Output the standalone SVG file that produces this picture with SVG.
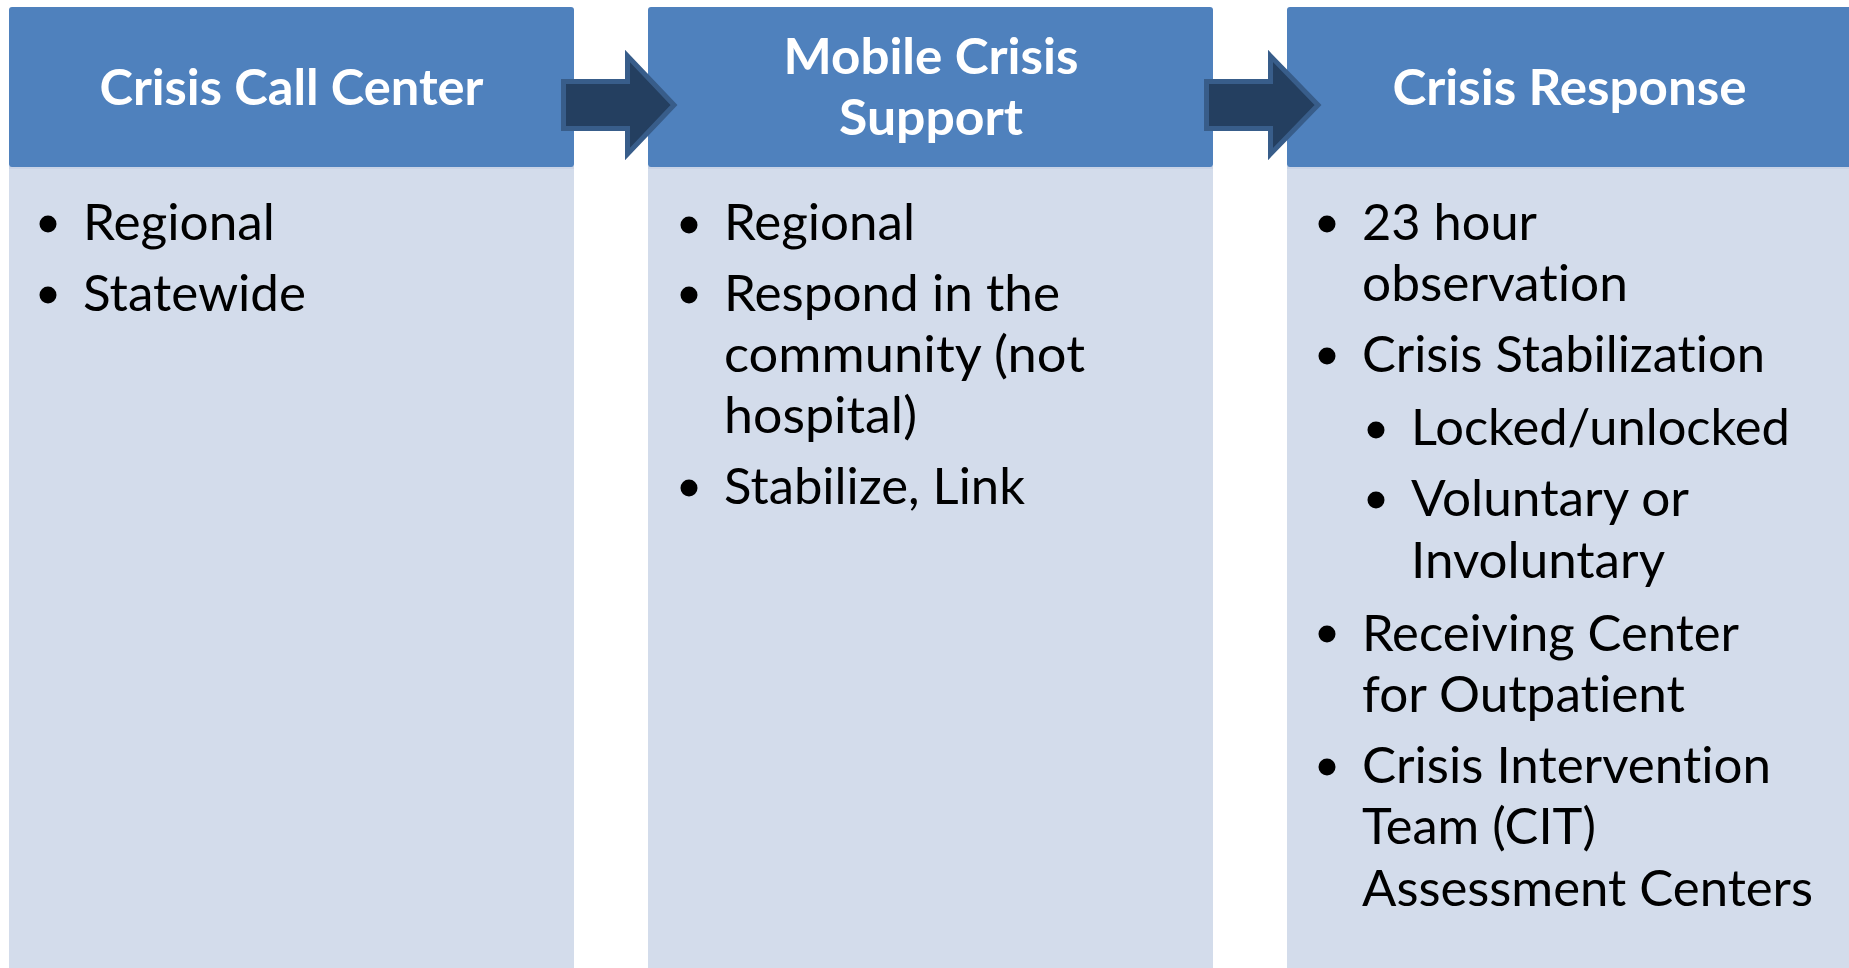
<svg xmlns="http://www.w3.org/2000/svg" width="1849" height="968" viewBox="0 0 1849 968">
<style>
.hdr{fill:#4F81BD}
.body{fill:#D3DCEB}
.edge{fill:#C9D3E6}
.ht{font-family:Lato,"Liberation Sans",sans-serif;font-weight:bold;font-size:50px;fill:#FFFFFF;text-anchor:middle;font-variant-ligatures:none}
.bt{font-family:Lato,"Liberation Sans",sans-serif;font-size:50px;fill:#000000;font-variant-ligatures:none}
.bul{fill:#000000}
.arrow{fill:#243F60;stroke:#385D8A;stroke-width:5;stroke-linejoin:miter}
</style>
<rect width="1849" height="968" fill="#FFFFFF"/>
<g id="node-call-center">
<rect class="body" x="9" y="166" width="565" height="810"/>
<rect class="edge" x="9" y="166" width="565" height="3"/>
<rect class="hdr" x="9" y="7" width="565" height="160" rx="3"/>
<text class="ht" x="291.5" y="105" textLength="384" lengthAdjust="spacingAndGlyphs">Crisis Call Center</text>
<circle class="bul" cx="48" cy="224" r="8.5"/>
<text class="bt" x="83" y="240" textLength="192" lengthAdjust="spacingAndGlyphs">Regional</text>
<circle class="bul" cx="48" cy="295" r="8.5"/>
<text class="bt" x="83" y="311" textLength="223" lengthAdjust="spacingAndGlyphs">Statewide</text>
</g>
<g id="node-mobile-crisis">
<rect class="body" x="648" y="166" width="565" height="810"/>
<rect class="edge" x="648" y="166" width="565" height="3"/>
<rect class="hdr" x="648" y="7" width="565" height="160" rx="3"/>
<text class="ht" x="931" y="74" textLength="295" lengthAdjust="spacingAndGlyphs">Mobile Crisis</text>
<text class="ht" x="931" y="135" textLength="184" lengthAdjust="spacingAndGlyphs">Support</text>
<circle class="bul" cx="689" cy="225" r="8.5"/>
<text class="bt" x="724" y="240" textLength="191" lengthAdjust="spacingAndGlyphs">Regional</text>
<circle class="bul" cx="689" cy="295" r="8.5"/>
<text class="bt" x="724" y="311" textLength="336" lengthAdjust="spacingAndGlyphs">Respond in the</text>
<text class="bt" x="724" y="372" textLength="361" lengthAdjust="spacingAndGlyphs">community (not</text>
<text class="bt" x="724" y="433" textLength="193" lengthAdjust="spacingAndGlyphs">hospital)</text>
<circle class="bul" cx="689" cy="488" r="8.5"/>
<text class="bt" x="724" y="504" textLength="301" lengthAdjust="spacingAndGlyphs">Stabilize, Link</text>
</g>
<g id="node-crisis-response">
<rect class="body" x="1287" y="166" width="570" height="810"/>
<rect class="edge" x="1287" y="166" width="570" height="3"/>
<rect class="hdr" x="1287" y="7" width="570" height="160" rx="3"/>
<text class="ht" x="1569.5" y="105" textLength="354" lengthAdjust="spacingAndGlyphs">Crisis Response</text>
<circle class="bul" cx="1327" cy="224" r="8.5"/>
<text class="bt" x="1362" y="240" textLength="175" lengthAdjust="spacingAndGlyphs">23 hour</text>
<text class="bt" x="1362" y="301" textLength="266" lengthAdjust="spacingAndGlyphs">observation</text>
<circle class="bul" cx="1327" cy="356" r="8.5"/>
<text class="bt" x="1362" y="372" textLength="403" lengthAdjust="spacingAndGlyphs">Crisis Stabilization</text>
<circle class="bul" cx="1376" cy="430" r="8.5"/>
<text class="bt" x="1411" y="445" textLength="379" lengthAdjust="spacingAndGlyphs">Locked/unlocked</text>
<circle class="bul" cx="1376" cy="500" r="8.5"/>
<text class="bt" x="1411" y="516" textLength="278" lengthAdjust="spacingAndGlyphs">Voluntary or</text>
<text class="bt" x="1411" y="578" textLength="254" lengthAdjust="spacingAndGlyphs">Involuntary</text>
<circle class="bul" cx="1327" cy="634" r="8.5"/>
<text class="bt" x="1362" y="651" textLength="377" lengthAdjust="spacingAndGlyphs">Receiving Center</text>
<text class="bt" x="1362" y="712" textLength="323" lengthAdjust="spacingAndGlyphs">for Outpatient</text>
<circle class="bul" cx="1327" cy="767" r="8.5"/>
<text class="bt" x="1362" y="783" textLength="409" lengthAdjust="spacingAndGlyphs">Crisis Intervention</text>
<text class="bt" x="1362" y="844" textLength="234" lengthAdjust="spacingAndGlyphs">Team (CIT)</text>
<text class="bt" x="1362" y="906" textLength="451" lengthAdjust="spacingAndGlyphs">Assessment Centers</text>
</g>
<g id="connectors">
<path class="arrow" d="M563.5,81.5 H627.5 V56 L674,105 L627.5,154 V128.5 H563.5 Z"/>
<path class="arrow" d="M1206.5,81.5 H1270.5 V56 L1318,105 L1270.5,154 V128.5 H1206.5 Z"/>
</g>
</svg>
